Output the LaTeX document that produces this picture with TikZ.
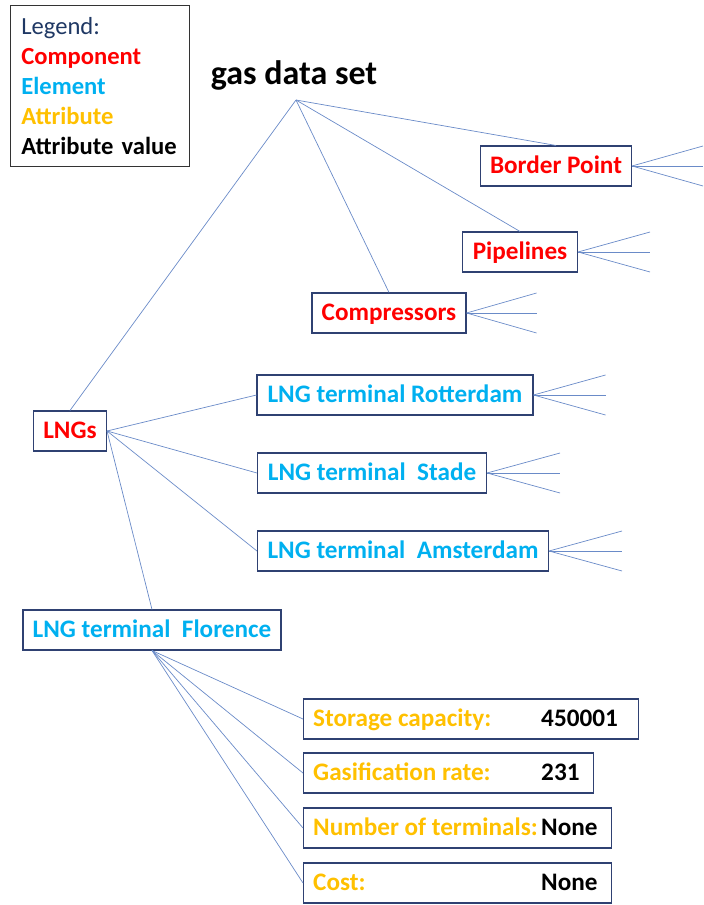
\documentclass[tikz,border=0pt]{standalone}
\usepackage{fontspec}
\setmainfont{Carlito}
\usepackage{xcolor}
\usepackage{tikz}

\definecolor{compred}{HTML}{FF0000}
\definecolor{elemblue}{HTML}{00B0F0}
\definecolor{attrgold}{HTML}{FFC000}
\definecolor{legnavy}{HTML}{1F3864}
\definecolor{boxnavy}{HTML}{2F4172}
\definecolor{linkblue}{HTML}{6A8BC8}

\tikzset{
  box/.style={draw=boxnavy, line width=0.9pt, minimum height=1.2cm, inner sep=2pt,
    text height=17pt, text depth=4pt, font=\fontsize{21.5}{25}\selectfont\bfseries},
  comp/.style={box, text=compred},
  elem/.style={box, text=elemblue},
  attrbox/.style={box, anchor=west},
  attr/.style={inner sep=0pt, text height=17pt, text depth=4pt, text=attrgold, font=\fontsize{21.5}{25}\selectfont\bfseries},
  val/.style={attr, text=black},
  link/.style={linkblue, line width=0.6pt},
}

\begin{document}
\begin{tikzpicture}[x=0.03cm, y=-0.03cm]
                \useasboundingbox (0,0) rectangle (703,905);

                % legend
                \node[draw=black!80, line width=0.6pt, anchor=north west, minimum width=5.37cm, minimum height=4.83cm,
                    inner xsep=0.33cm, text width=4.71cm, align=left, font=\fontsize{21}{25.6}\selectfont] (legend) at (10,5)
                    {\textcolor{legnavy}{Legend:}\\ \textbf{\textcolor{compred}{Component}}\\ \textbf{\textcolor{elemblue}{Element}}\\
                     \textbf{\textcolor{attrgold}{Attribute}}\\ \textbf{Attribute value}};

                \node[font=\fontsize{29}{33}\selectfont\bfseries] (title) at (294,75) {gas data set};
                \coordinate (root) at (296,100);

                % components
                \node[comp, minimum width=4.53cm] (bp) at (556,166) {Border Point};
                \node[comp, minimum width=3.45cm] (pipe) at (520,252) {Pipelines};
                \node[comp, minimum width=4.62cm] (comp) at (389,313) {Compressors};
                \node[comp, minimum width=2.19cm] (lng) at (70,431) {LNGs};

                \draw[link] (root) -- (bp.north);
                \draw[link] (root) -- (pipe.north);
                \draw[link] (root) -- (comp.north);
                \draw[link] (root) -- (lng.north);

                % elements
                \node[elem, minimum width=8.28cm] (rot) at (395,395) {LNG terminal Rotterdam};
                \node[elem, minimum width=6.87cm] (sta) at (372,473) {LNG terminal~ Stade};
                \node[elem, minimum width=8.73cm] (ams) at (403,551) {LNG terminal~ Amsterdam};
                \node[elem, minimum width=7.74cm] (flo) at (152,630) {LNG terminal~ Florence};

                \draw[link] (lng.east) -- (rot.west);
                \draw[link] (lng.east) -- (sta.west);
                \draw[link] (lng.east) -- (ams.west);
                \draw[link] (lng.east) -- (flo.north);

                % collapsed branches
                \foreach \n/\l in {bp/71, pipe/72, comp/70, rot/72, sta/73, ams/73}
                    \foreach \d in {-20,0,20}
                        \draw[link] (\n.east) -- ++(\l,\d);

                % attributes of Florence
                \foreach \n/\y/\w/\l/\v in {cap/719/10.05/Storage capacity:/450001, gas/773/8.7/Gasification rate:/231,
                        num/828/9.24/Number of terminals:/None, cost/883/9.24/Cost:/None} {
                    \node[attrbox, minimum width=\w cm] (\n) at (303,\y) {};
                    \node[attr, anchor=west] (\n l) at ([xshift=0.3cm]\n.west) {\l};
                    \node[val, anchor=west] (\n v) at (541,\y) {\v};
                    \draw[link] (flo.south) -- (\n.west);
                }
            \end{tikzpicture}
\end{document}
